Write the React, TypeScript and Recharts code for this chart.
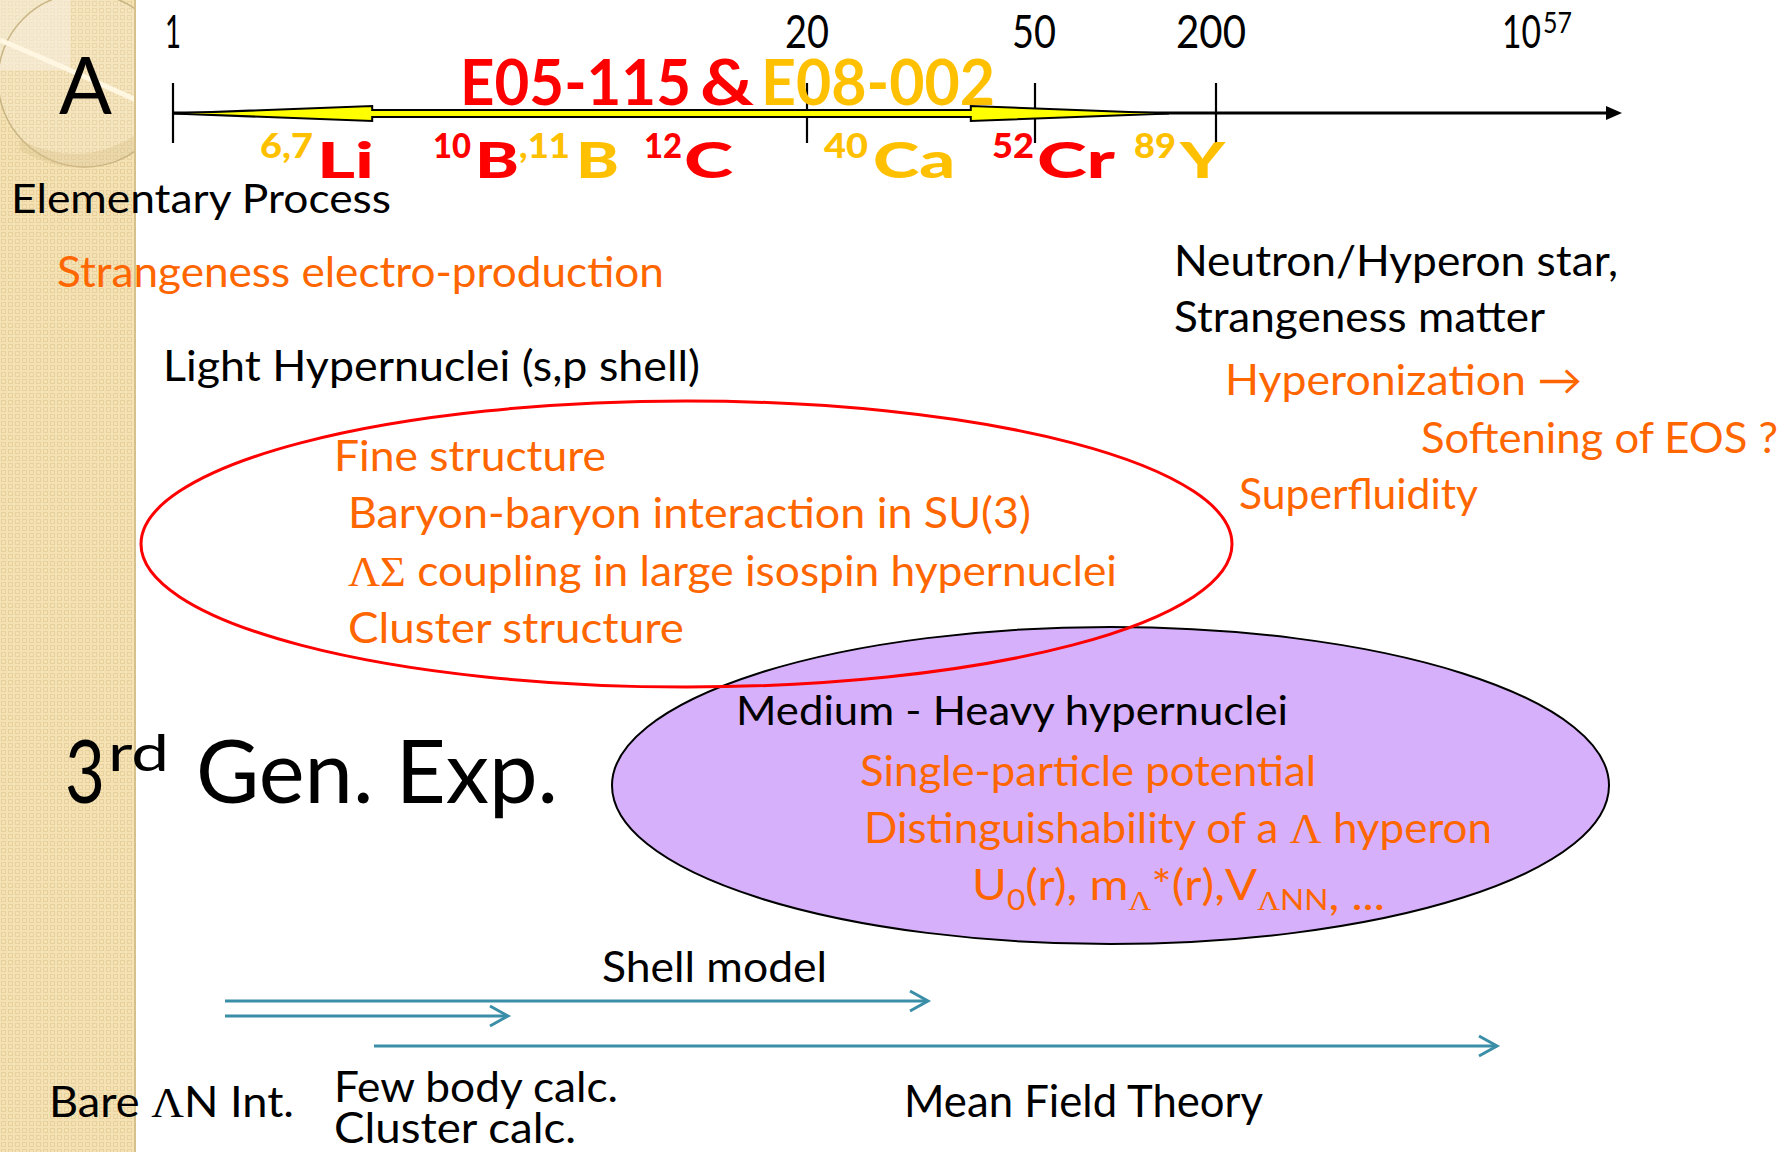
import React from 'react';
import { ComposedChart, XAxis, YAxis, ReferenceArea, ReferenceDot } from 'recharts';

// ---------------- data (content only) ----------------
const AXIS_NAME = 'A';
const AXIS_TICKS = ['1', '20', '50', '200'];
const AXIS_LIMIT = ['10', '57'];
const EXPERIMENTS = ['E05-115', '&', 'E08-002'];
const NUCLEUS_MASS = ['6,7', '10', ',11', '12', '40', '52', '89'];
const NUCLEUS_SYMBOL = ['Li', 'B', 'B', 'C', 'Ca', 'Cr', 'Y'];
const ELEMENTARY = ['Elementary Process', 'Strangeness electro-production'];
const LIGHT_HYPERNUCLEI = [
  'Light Hypernuclei (s,p shell)',
  'Fine structure',
  'Baryon-baryon interaction in SU(3)',
  'ΛΣ coupling in large isospin hypernuclei',
  'Cluster structure',
];
const HEAVY_HYPERNUCLEI = [
  'Medium - Heavy hypernuclei',
  'Single-particle potential',
  'Distinguishability of a Λ hyperon',
];
const STAR_TOPICS = [
  'Neutron/Hyperon star,',
  'Strangeness matter',
  'Hyperonization →',
  'Softening of EOS ?',
  'Superfluidity',
];
const GENERATION = ['3', 'rd', 'Gen. Exp.'];
const THEORY = ['Bare ΛN Int.', 'Few body calc.', 'Cluster calc.', 'Shell model', 'Mean Field Theory'];

// ---------------- layout & style ----------------
const WIDTH = 1787;
const HEIGHT = 1152;
const FONT = "Lato, 'Open Sans', 'DejaVu Sans', sans-serif";
const SERIF = "'Liberation Serif', 'DejaVu Serif', serif";
const RED = '#FF0000';
const GOLD = '#FFC000';
const ORANGE = '#FF6600';
const TEAL = '#3A8EA7';
const PURPLE = '#D6B0FA';

const TICK_X = [173, 807, 1035, 1216];
const TICK_LABEL_X = [173, 807, 1034, 1211];
const TICK_LABEL_W = [16, 44, 44, 70];

const MASS_LAYOUT = [
  [260, 53, GOLD], [433, 38, RED], [519, 51, GOLD], [644, 38, RED], [824, 44, GOLD], [992, 42, RED], [1134, 42, GOLD],
];
const SYMBOL_LAYOUT = [
  [317, 57, RED], [475, 44, RED], [576, 43, GOLD], [684, 49, RED], [873, 82, GOLD], [1037, 78, RED], [1180, 45, GOLD],
];

type TextOpts = { size: number; color?: string; w?: number; weight?: number; anchor?: string; family?: string };

const withGreek = (s: string) =>
  s.split(/([ΛΣ]+)/).map((seg, i) =>
    /[ΛΣ]/.test(seg) ? (
      <tspan key={i} fontFamily={SERIF}>
        {seg}
      </tspan>
    ) : (
      <React.Fragment key={i}>{seg}</React.Fragment>
    )
  );

const textNode = (cx: number, cy: number, content: React.ReactNode, o: TextOpts) => (
  <text
    x={cx}
    y={cy}
    fontSize={o.size}
    fill={o.color || '#000'}
    fontFamily={o.family || FONT}
    fontWeight={o.weight || 400}
    textAnchor={o.anchor || 'start'}
    textLength={o.w}
    lengthAdjust={o.w ? 'spacingAndGlyphs' : undefined}
  >
    {content}
  </text>
);

const label = (key: string, x: number, y: number, content: React.ReactNode, o: TextOpts) => (
  <ReferenceDot
    key={key}
    x={x}
    y={y}
    r={1}
    ifOverflow="visible"
    shape={(p: any) => textNode(p.cx, p.cy, content, o)}
  />
);

const area = (key: string, x1: number, x2: number, y1: number, y2: number, draw: (p: any) => React.ReactElement) => (
  <ReferenceArea key={key} x1={x1} x2={x2} y1={y1} y2={y2} ifOverflow="visible" shape={(p: any) => draw(p)} />
);

const drawStrip = (p: any) => {
  const { x, y, width: w, height: h } = p;
  return (
    <g>
      <defs>
        <pattern id="stripCheck" x={x} y={y} width={7} height={7} patternUnits="userSpaceOnUse">
          <rect width={7} height={7} fill="#F4E2B5" />
          <rect x={1.5} y={1.5} width={4} height={4} fill="none" stroke="#E8D19C" strokeWidth={1} />
        </pattern>
        <clipPath id="stripClip">
          <rect x={x} y={y} width={w} height={h} />
        </clipPath>
      </defs>
      <rect x={x} y={y} width={w} height={h} fill="url(#stripCheck)" />
      <g clipPath="url(#stripClip)">
        <rect x={x} y={y} width={70} height={70} fill="#F5EEDF" opacity={0.55} />
        <circle cx={x + 85} cy={y + 80} r={87} fill="#FFFFFF" fillOpacity={0.12} stroke="#C9B584" strokeWidth={1.5} />
        <path
          d={`M${x + 20},${y + 150} Q${x + 80},${y + 185} ${x + w},${y + 150} L${x + w},${y + 135} Q${x + 80},${y + 170} ${x + 20},${y + 140} Z`}
          fill="#D8BE86"
          fillOpacity={0.35}
        />
        <path d={`M${x},${y + 40} Q${x + 62},${y + 66} ${x + w},${y + 100}`} stroke="#FFF7E2" strokeWidth={5} fill="none" />
      </g>
      <line x1={x + w - 1} y1={y} x2={x + w - 1} y2={y + h} stroke="#D6C18C" strokeWidth={2} />
    </g>
  );
};

const drawEllipse = (fill: string, stroke: string, sw: number) => (p: any) => (
  <ellipse
    cx={p.x + p.width / 2}
    cy={p.y + p.height / 2}
    rx={p.width / 2}
    ry={p.height / 2}
    fill={fill}
    stroke={stroke}
    strokeWidth={sw}
  />
);

const drawAxis = (p: any) => {
  const cy = p.y + p.height / 2;
  const end = p.x + p.width;
  return (
    <g>
      <line x1={p.x} y1={cy} x2={end - 12} y2={cy} stroke="#000" strokeWidth={3} />
      <polygon points={`${end},${cy} ${end - 16},${cy - 7} ${end - 16},${cy + 7}`} fill="#000" />
    </g>
  );
};

const drawTick = (p: any) => {
  const cx = p.x + p.width / 2;
  return <line x1={cx} y1={p.y} x2={cx} y2={p.y + p.height} stroke="#000" strokeWidth={2.2} />;
};

const drawYellowArrow = (p: any) => {
  const { x, y, width: w, height: h } = p;
  const cy = y + h / 2;
  const headL = w * 0.2;
  const headR = w * 0.199;
  const s = 3.5;
  const pts = [
    [x, cy],
    [x + headL, y],
    [x + headL, cy - s],
    [x + w - headR, cy - s],
    [x + w - headR, y],
    [x + w, cy],
    [x + w - headR, y + h],
    [x + w - headR, cy + s],
    [x + headL, cy + s],
    [x + headL, y + h],
  ]
    .map((q) => q.join(','))
    .join(' ');
  return <polygon points={pts} fill="#FFFF00" stroke="#000" strokeWidth={2} strokeLinejoin="miter" />;
};

const drawTealArrow = (p: any) => {
  const cy = p.y + p.height / 2;
  const end = p.x + p.width;
  return (
    <g stroke={TEAL} strokeWidth={3} fill="none">
      <line x1={p.x} y1={cy} x2={end} y2={cy} />
      <polyline points={`${end - 18},${cy - 10} ${end},${cy} ${end - 18},${cy + 10}`} />
    </g>
  );
};

export default function App() {
  return (
    <div style={{ position: 'absolute', left: 0, top: 0, width: WIDTH, height: HEIGHT, background: '#fff' }}>
      <ComposedChart width={WIDTH} height={HEIGHT} margin={{ top: 0, right: 0, bottom: 0, left: 0 }}>
        <XAxis type="number" dataKey="x" domain={[0, WIDTH]} hide allowDataOverflow />
        <YAxis type="number" dataKey="y" domain={[0, HEIGHT]} reversed hide allowDataOverflow />

        {/* geometry */}
        {area('strip', 0, 136, 0, HEIGHT, drawStrip)}
        {area('heavy', 612, 1609, 627, 944, drawEllipse(PURPLE, '#000', 2))}
        {area('light', 141, 1232, 401, 687, drawEllipse('none', RED, 3))}
        {area('axis', 173, 1622, 110, 116, drawAxis)}
        {TICK_X.map((tx, i) => area(`tick${i}`, tx - 1.5, tx + 1.5, 83, 143, drawTick))}
        {area('yellow', 173, 1169, 106, 121, drawYellowArrow)}
        {area('shell1', 225, 928, 999, 1003, drawTealArrow)}
        {area('shell2', 225, 508, 1014, 1018, drawTealArrow)}
        {area('mft', 374, 1497, 1044, 1048, drawTealArrow)}

        {/* axis texts */}
        {label('axisName', 59, 114, AXIS_NAME, { size: 80, w: 53 })}
        {AXIS_TICKS.map((t, i) =>
          label(`tl${i}`, TICK_LABEL_X[i], 48, t, { size: 46, anchor: 'middle', w: TICK_LABEL_W[i] })
        )}
        {label('lim0', 1502, 48, AXIS_LIMIT[0], { size: 46, w: 39 })}
        {label('lim1', 1543, 33, AXIS_LIMIT[1], { size: 28, w: 29 })}

        {/* experiments */}
        {label('e0', 460, 105, EXPERIMENTS[0], { size: 64, weight: 700, color: RED, w: 231 })}
        {label('e1', 700, 105, EXPERIMENTS[1], { size: 64, weight: 700, color: RED, w: 54 })}
        {label('e2', 761, 105, EXPERIMENTS[2], { size: 64, weight: 700, color: GOLD, w: 234 })}

        {/* nuclei */}
        {NUCLEUS_MASS.map((m, i) =>
          label(`m${i}`, MASS_LAYOUT[i][0] as number, 158, m, {
            size: 35,
            weight: 900,
            color: MASS_LAYOUT[i][2] as string,
            w: MASS_LAYOUT[i][1] as number,
          })
        )}
        {NUCLEUS_SYMBOL.map((s, i) =>
          label(`s${i}`, SYMBOL_LAYOUT[i][0] as number, 178, s, {
            size: 50,
            weight: 900,
            color: SYMBOL_LAYOUT[i][2] as string,
            w: SYMBOL_LAYOUT[i][1] as number,
          })
        )}

        {/* elementary */}
        {label('el0', 11, 213, ELEMENTARY[0], { size: 41, w: 380 })}
        {label('el1', 57, 287, ELEMENTARY[1], { size: 42, w: 607, color: ORANGE })}

        {/* light hypernuclei */}
        {label('lh0', 163, 381, LIGHT_HYPERNUCLEI[0], { size: 42, w: 537 })}
        {label('lh1', 334, 471, LIGHT_HYPERNUCLEI[1], { size: 43, w: 272, color: ORANGE })}
        {label('lh2', 348, 528, LIGHT_HYPERNUCLEI[2], { size: 43, w: 683, color: ORANGE })}
        {label('lh3', 348, 586, withGreek(LIGHT_HYPERNUCLEI[3]), { size: 43, w: 769, color: ORANGE })}
        {label('lh4', 348, 643, LIGHT_HYPERNUCLEI[4], { size: 43, w: 336, color: ORANGE })}

        {/* star */}
        {label('st0', 1174, 276, STAR_TOPICS[0], { size: 42, w: 444 })}
        {label('st1', 1174, 332, STAR_TOPICS[1], { size: 42, w: 371 })}
        {label('st2', 1225, 395, STAR_TOPICS[2], { size: 42, w: 357, color: ORANGE })}
        {label('st3', 1421, 453, STAR_TOPICS[3], { size: 42, w: 357, color: ORANGE })}
        {label('st4', 1239, 509, STAR_TOPICS[4], { size: 42, w: 239, color: ORANGE })}

        {/* heavy hypernuclei */}
        {label('hh0', 736, 725, HEAVY_HYPERNUCLEI[0], { size: 41, w: 552 })}
        {label('hh1', 860, 786, HEAVY_HYPERNUCLEI[1], { size: 43, w: 456, color: ORANGE })}
        {label('hh2', 864, 843, withGreek(HEAVY_HYPERNUCLEI[2]), { size: 43, w: 628, color: ORANGE })}
        {label(
          'hh3',
          972,
          900,
          <>
            <tspan>U</tspan>
            <tspan fontSize={28} dy={10}>0</tspan>
            <tspan dy={-10}>(r), m</tspan>
            <tspan fontSize={28} dy={10} fontFamily={SERIF}>Λ</tspan>
            <tspan dy={-10}>*(r),V</tspan>
            <tspan fontSize={28} dy={10} fontFamily={SERIF}>Λ</tspan>
            <tspan fontSize={28}>NN</tspan>
            <tspan>, ...</tspan>
          </>,
          { size: 42, w: 413, color: ORANGE }
        )}

        {/* generation */}
        {label('g0', 65, 803, GENERATION[0], { size: 88, w: 40 })}
        {label('g1', 108, 771, GENERATION[1], { size: 50, w: 61 })}
        {label('g2', 196, 803, GENERATION[2], { size: 88, w: 362 })}

        {/* theory */}
        {label('th0', 49, 1117, withGreek(THEORY[0]), { size: 42, w: 245 })}
        {label('th1', 334, 1102, THEORY[1], { size: 42, w: 284 })}
        {label('th2', 334, 1143, THEORY[2], { size: 42, w: 242 })}
        {label('th3', 602, 982, THEORY[3], { size: 42, w: 225 })}
        {label('th4', 904, 1117, THEORY[4], { size: 44, w: 359 })}
      </ComposedChart>
    </div>
  );
}
